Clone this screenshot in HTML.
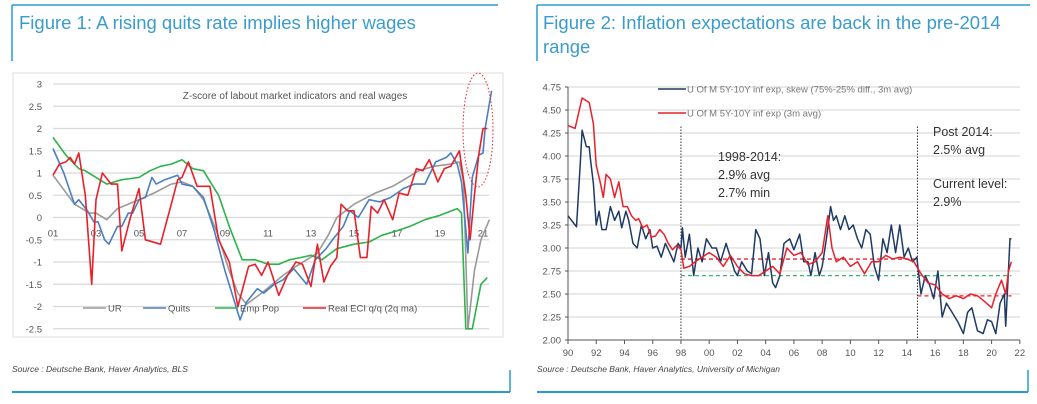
<!DOCTYPE html>
<html><head><meta charset="utf-8"><style>
body{margin:0;background:#fff;width:1037px;height:404px;overflow:hidden;font-family:"Liberation Sans",sans-serif}
svg{display:block}
</style></head><body>
<svg id="s" width="1037" height="404" xmlns="http://www.w3.org/2000/svg" font-family="Liberation Sans, sans-serif">
<g>
<line x1="12" y1="5" x2="498" y2="5" stroke="#2a9ad0" stroke-width="1.5"/>
<line x1="12" y1="5" x2="12" y2="61" stroke="#2a9ad0" stroke-width="1.5"/>
<line x1="12" y1="392" x2="510" y2="392" stroke="#2a9ad0" stroke-width="2"/>
<line x1="510" y1="370" x2="510" y2="392" stroke="#2a9ad0" stroke-width="1.5"/>
</g>
<text x="19" y="29" font-size="18.5" fill="#3a9ccc">Figure 1: A rising quits rate implies higher wages</text>
<text x="12" y="372" font-size="8.5" font-style="italic" fill="#444">Source : Deutsche Bank, Haver Analytics, BLS</text>
<g>
<line x1="537" y1="5" x2="1030" y2="5" stroke="#2a9ad0" stroke-width="1.5"/>
<line x1="537" y1="5" x2="537" y2="61" stroke="#2a9ad0" stroke-width="1.5"/>
<line x1="537" y1="392" x2="1028" y2="392" stroke="#2a9ad0" stroke-width="2"/>
<line x1="1028" y1="370" x2="1028" y2="392" stroke="#2a9ad0" stroke-width="1.5"/>
</g>
<text font-size="18.5" fill="#3a9ccc"><tspan x="543" y="29">Figure 2: Inflation expectations are back in the pre-2014</tspan><tspan x="543" y="53">range</tspan></text>
<text x="537" y="372" font-size="8.5" font-style="italic" fill="#444">Source : Deutsche Bank, Haver Analytics, University of Michigan</text>
<rect x="13" y="73" width="490" height="264" fill="none" stroke="#ddd"/>
<g id="c1"></g><g id="c2"></g>
</svg>
<script>
// ---- Chart 1 data ----
const c1YTicks=[3,2.5,2,1.5,1,0.5,0,-0.5,-1,-1.5,-2,-2.5];
const c1XLabels=["01","03","05","07","09","11","13","15","17","19","21"];
const urYears=[2001,2002,2002.7,2003,2003.5,2004,2005,2005.7,2006.5,2007,2007.5,2008,2008.6,2009.2,2009.6,2010,2010.7,2011.2,2011.7,2012.3,2012.8,2013.3,2013.8,2014.2,2015,2016,2016.8,2017.5,2018,2018.7,2019.5,2019.9,2020.1,2020.3,2020.6,2020.9,2021.3];
const urVals=[0.95,0.3,0.1,0.1,-0.05,0.2,0.4,0.55,0.75,0.8,0.7,0.4,-0.3,-1.2,-1.7,-1.95,-1.7,-1.5,-1.3,-1.1,-0.95,-0.8,-0.4,0,0.3,0.55,0.7,0.9,1.05,1.15,1.2,1.25,0.8,-2.5,-1.2,-0.5,-0.05];
const quitsYears=[2001,2001.5,2002,2002.2,2002.6,2002.9,2003.1,2003.4,2003.6,2004,2004.2,2004.5,2004.7,2005,2005.3,2005.6,2005.8,2006.2,2006.8,2007,2007.5,2008,2008.5,2009,2009.7,2010,2010.5,2010.8,2011.3,2011.7,2012.2,2012.8,2013.2,2013.7,2014,2014.5,2014.8,2015.2,2015.7,2016.2,2016.7,2017.3,2017.8,2018.3,2018.8,2019.3,2019.5,2019.8,2020,2020.3,2020.5,2020.8,2021,2021.1,2021.4];
const quitsVals=[1.55,1.0,0.3,0.4,0.15,-0.1,-0.1,-0.5,-0.6,-0.2,-0.2,0.1,0.1,0.4,0.45,0.9,0.75,0.85,0.95,0.75,0.7,0.45,-0.3,-1.2,-2.3,-1.9,-1.6,-1.7,-1.5,-1.4,-1.15,-1.5,-0.95,-0.7,-0.5,-0.2,0.15,0,0.4,0.35,0.45,0.65,0.75,0.75,1.25,1.35,1.45,1.2,0.8,-0.8,0.9,1.4,1.45,2.0,2.85];
const empYears=[2001,2001.6,2002.2,2002.5,2003,2003.5,2004.2,2005,2005.5,2006,2006.5,2007,2007.5,2008,2008.7,2009.2,2009.8,2010.4,2011,2011.5,2012,2012.5,2013,2013.5,2014.2,2015,2015.7,2016.3,2017,2017.6,2018.3,2019,2019.8,2020,2020.2,2020.5,2020.9,2021.2];
const empVals=[1.8,1.4,1.1,1.05,0.9,0.75,0.85,0.9,1.05,1.15,1.2,1.3,1.1,1.05,0.5,-0.2,-0.95,-0.95,-1.05,-1.05,-0.95,-0.9,-0.85,-0.95,-0.7,-0.6,-0.55,-0.4,-0.3,-0.2,-0.05,0.05,0.2,0.1,-2.5,-2.5,-1.5,-1.35];
const eciYears=[2001,2001.3,2001.6,2001.8,2002,2002.2,2002.5,2002.8,2003,2003.3,2003.7,2004,2004.2,2004.6,2005,2005.3,2006,2006.5,2006.8,2007,2007.3,2007.7,2008,2008.3,2008.7,2009.2,2009.6,2010.1,2010.4,2010.7,2011,2011.5,2011.9,2012.3,2012.6,2013,2013.3,2013.6,2013.9,2014.2,2014.4,2014.7,2015,2015.3,2015.6,2015.8,2016.1,2016.4,2016.8,2017.1,2017.5,2017.9,2018.2,2018.5,2018.9,2019.2,2019.5,2019.9,2020.2,2020.4,2020.6,2020.8,2021,2021.2];
const eciVals=[0.95,1.2,1.25,1.35,1.2,1.45,0.5,-1.5,0.4,1.0,0.75,0.75,-0.75,0,0.65,-0.5,-0.6,0.3,0.85,0.9,1.25,0.7,0.7,0.7,-0.5,-1.0,-2.0,-1.1,-1.05,-1.3,-1.0,-1.75,-1.3,-1.0,-1.05,-1.55,-0.6,-1.45,-1.1,-0.9,0.3,0.15,0.15,-0.9,-0.9,0.25,0.1,0.4,-0.05,0.55,0.5,1.1,1.05,1.3,0.8,1.1,1.15,1.5,0.5,-0.5,0.5,1.4,2.0,2.0];
const c1Legend=["UR","Quits","Emp Pop","Real ECI q/q (2q ma)"];
// ---- Chart 2 data ----
const c2YTicks=[4.75,4.5,4.25,4.0,3.75,3.5,3.25,3.0,2.75,2.5,2.25,2.0];
const c2XLabels=["90","92","94","96","98","00","02","04","06","08","10","12","14","16","18","20","22"];
const skewYears=[1990,1990.5,1990.6,1990.9,1991,1991.3,1991.5,1991.6,1991.8,1992,1992.2,1992.4,1992.7,1993,1993.3,1993.6,1993.8,1994.1,1994.3,1994.6,1994.9,1995.2,1995.5,1995.8,1996,1996.3,1996.6,1996.9,1997.2,1997.5,1997.8,1998,1998.1,1998.3,1998.6,1998.9,1999.2,1999.5,1999.8,2000.2,2000.5,2000.8,2001.2,2001.5,2001.8,2002,2002.3,2002.7,2003,2003.3,2003.6,2003.9,2004.2,2004.5,2004.7,2005,2005.3,2005.7,2006,2006.4,2006.7,2007,2007.2,2007.5,2007.8,2008,2008.3,2008.6,2008.8,2009,2009.3,2009.6,2009.9,2010.2,2010.5,2010.8,2011.1,2011.4,2011.7,2012,2012.3,2012.6,2012.9,2013.2,2013.5,2013.8,2014.1,2014.4,2014.7,2015,2015.3,2015.6,2015.9,2016.2,2016.5,2016.8,2017.2,2017.6,2018,2018.3,2018.6,2019,2019.4,2019.7,2020,2020.3,2020.6,2020.9,2021,2021.3,2021.4];
const skewVals=[3.35,3.25,3.23,4.0,4.28,4.1,4.1,3.95,3.7,3.25,3.4,3.2,3.2,3.45,3.3,3.4,3.22,3.4,3.3,3.05,3.0,3.25,3.1,3.2,3.0,3.02,2.9,3.05,2.95,2.85,3.05,3.0,3.22,2.9,3.15,2.7,3.0,2.85,3.1,3.0,3.0,2.85,3.05,2.9,2.75,2.7,2.85,2.75,2.72,3.2,3.1,2.7,2.95,2.62,2.57,2.7,3.05,3.1,2.98,3.15,2.85,2.85,2.7,2.95,2.7,2.8,3.1,3.45,3.3,3.35,3.2,3.35,3.2,3.25,3.1,3.0,3.2,3.15,2.8,2.65,3.1,2.95,3.25,2.95,3.25,2.9,3.0,2.85,2.9,2.5,2.7,2.6,2.45,2.75,2.25,2.4,2.3,2.2,2.07,2.3,2.35,2.1,2.07,2.22,2.2,2.07,2.4,2.5,2.15,3.1,3.1];
const expYears=[1990,1990.5,1990.8,1991,1991.3,1991.5,1991.8,1992,1992.3,1992.5,1992.7,1993,1993.3,1993.6,1993.9,1994.2,1994.5,1994.8,1995,1995.3,1995.6,1995.9,1996.2,1996.5,1996.8,1997.1,1997.4,1997.7,1998,1998.2,1998.6,1999,1999.5,2000,2000.5,2001,2001.5,2002,2002.5,2003,2003.5,2004,2004.5,2005,2005.5,2006,2006.5,2007,2007.5,2008,2008.4,2008.7,2009,2009.5,2010,2010.5,2011,2011.5,2012,2012.5,2013,2013.5,2014,2014.5,2015,2015.5,2016,2016.5,2017,2017.5,2018,2018.5,2019,2019.5,2020,2020.3,2020.7,2021,2021.2,2021.4];
const expVals=[4.33,4.3,4.5,4.63,4.6,4.58,4.35,3.9,3.7,3.55,3.8,3.75,3.55,3.72,3.45,3.45,3.35,3.3,3.32,3.22,3.25,3.12,3.13,3.2,3.15,3.05,2.98,3.03,2.98,2.78,2.8,2.85,2.9,2.95,2.9,2.8,2.92,2.8,2.72,2.7,2.7,2.75,2.8,2.72,3.0,2.92,2.95,2.82,2.85,2.95,3.35,3.0,2.85,2.9,2.8,2.85,2.72,2.85,2.85,2.92,2.88,2.9,2.88,2.85,2.72,2.62,2.6,2.5,2.45,2.48,2.45,2.5,2.48,2.42,2.35,2.5,2.65,2.5,2.75,2.85];
const avg1998=2.88, min1998=2.7, avgPost=2.48, break1=1998, break2=2014.75, endYear=2021.4;

const NS="http://www.w3.org/2000/svg";
function mk(parent,tag,attrs){const e=document.createElementNS(NS,tag);for(const k in attrs)e.setAttribute(k,attrs[k]);parent.appendChild(e);return e;}
function pathD(xs,ys,fx,fy){return xs.map((x,i)=>(i?"L":"M")+fx(x).toFixed(1)+","+fy(ys[i]).toFixed(1)).join(" ");}

// Chart 1
const g1=document.getElementById('c1');
const x1=y=>53+(y-2001)*21.5, y1=v=>217.5-v*44.5;
c1YTicks.forEach(t=>{
  const l=mk(g1,'line',{x1:53,x2:489,y1:y1(t),y2:y1(t),stroke:'#d9d9d9','stroke-width':1.2});
  
  
  const tx=mk(g1,'text',{x:42,y:y1(t)+3.5,'font-size':9.5,fill:'#555','text-anchor':'end'});
  tx.textContent=t;
  
  
});
c1XLabels.forEach((s,i)=>{
  const tx=mk(g1,'text',{x:x1(2001+2*i),y:y1(0)+19,'font-size':9.5,fill:'#555','text-anchor':'middle'});
  tx.textContent=s;
  
  
});
const ttl=mk(g1,'text',{x:295,y:99,'font-size':10,fill:'#555','text-anchor':'middle'});
ttl.textContent="Z-score of labout market indicators and real wages";


[[urYears,urVals,'#999','ur-line'],[empYears,empVals,'#2db34a','emp-pop-line'],[quitsYears,quitsVals,'#4a7fc0','quits-line'],[eciYears,eciVals,'#e8202a','real-eci-line']].forEach(s=>{
  const p=mk(g1,'path',{d:pathD(s[0],s[1],x1,y1),fill:'none',stroke:s[2],'stroke-width':1.6,'stroke-linejoin':'round'});
  
  
});
const ell=mk(g1,'ellipse',{cx:478,cy:130,rx:15,ry:57,fill:'none',stroke:'#e8202a','stroke-dasharray':'1.5 2','stroke-width':1});


const legCol=['#999','#4a7fc0','#2db34a','#e8202a'], legX=[83,143,215,303];
c1Legend.forEach((s,i)=>{
  mk(g1,'line',{x1:legX[i],x2:legX[i]+23,y1:308,y2:308,stroke:legCol[i],'stroke-width':1.6});
  const tx=mk(g1,'text',{x:legX[i]+25,y:311.5,'font-size':9.5,fill:'#555'});
  tx.textContent=s;
  
  
});

// Chart 2
const g2=document.getElementById('c2');
const x2=y=>568+(y-1990)*14.12, y2=v=>340-(v-2)*92;
c2YTicks.forEach(t=>{
  if(t>2){const l=mk(g2,'line',{x1:568,x2:1020,y1:y2(t),y2:y2(t),stroke:'#dcdcdc','stroke-width':1.2});
  
  }
  mk(g2,'line',{x1:565,x2:568,y1:y2(t),y2:y2(t),stroke:'#555'});
  const tx=mk(g2,'text',{x:561,y:y2(t)+3.5,'font-size':9.5,fill:'#555','text-anchor':'end'});
  tx.textContent=t.toFixed(2);
  
  
});
mk(g2,'line',{x1:568,x2:568,y1:y2(4.75),y2:340,stroke:'#555'});
mk(g2,'line',{x1:568,x2:1020,y1:340,y2:340,stroke:'#555'});
c2XLabels.forEach((s,i)=>{
  mk(g2,'line',{x1:x2(1990+2*i),x2:x2(1990+2*i),y1:340,y2:344,stroke:'#555'});
  const tx=mk(g2,'text',{x:x2(1990+2*i),y:356,'font-size':9.5,fill:'#555','text-anchor':'middle'});
  tx.textContent=s;
  
  
});
[[break1,endYear,min1998,'#3cb371','min-1998-2014-line'],[break1,break2,avg1998,'#e8202a','avg-1998-2014-line'],[break2,endYear,avgPost,'#e8202a','avg-post-2014-line']].forEach(d=>{
  const l=mk(g2,'line',{x1:x2(d[0]),x2:x2(d[1]),y1:y2(d[2]),y2:y2(d[2]),stroke:d[3],'stroke-dasharray':'4 3','stroke-width':1.3});
  
  
});
[break1,break2].forEach(b=>{
  const l=mk(g2,'line',{x1:x2(b),x2:x2(b),y1:y2(4.32),y2:340,stroke:'#333','stroke-dasharray':'1.5 1.5'});
  
  
});
[[skewYears,skewVals,'#1f3a63','skew-line'],[expYears,expVals,'#e8202a','inflation-exp-line']].forEach(s=>{
  const p=mk(g2,'path',{d:pathD(s[0],s[1],x2,y2),fill:'none',stroke:s[2],'stroke-width':1.5,'stroke-linejoin':'round'});
  
  
});
[["U Of M 5Y-10Y inf exp, skew (75%-25% diff., 3m avg)",'#1f3a63',89],["U Of M 5Y-10Y inf exp (3m avg)",'#e8202a',113]].forEach(s=>{
  mk(g2,'line',{x1:658,x2:686,y1:s[2],y2:s[2],stroke:s[1],'stroke-width':1.5});
  const tx=mk(g2,'text',{x:687,y:s[2]+3.5,'font-size':9.5,fill:'#777'});
  tx.textContent=s[0];
  
  
});
[["1998-2014:",718,161],["2.9% avg",718,179],["2.7% min",718,197],["Post 2014:",933,136],["2.5% avg",933,154],["Current level:",933,188],["2.9%",933,206]].forEach(s=>{
  const tx=mk(g2,'text',{x:s[1],y:s[2],'font-size':12.5,fill:'#333'});
  tx.textContent=s[0];
  
  
});
</script>
</body></html>
